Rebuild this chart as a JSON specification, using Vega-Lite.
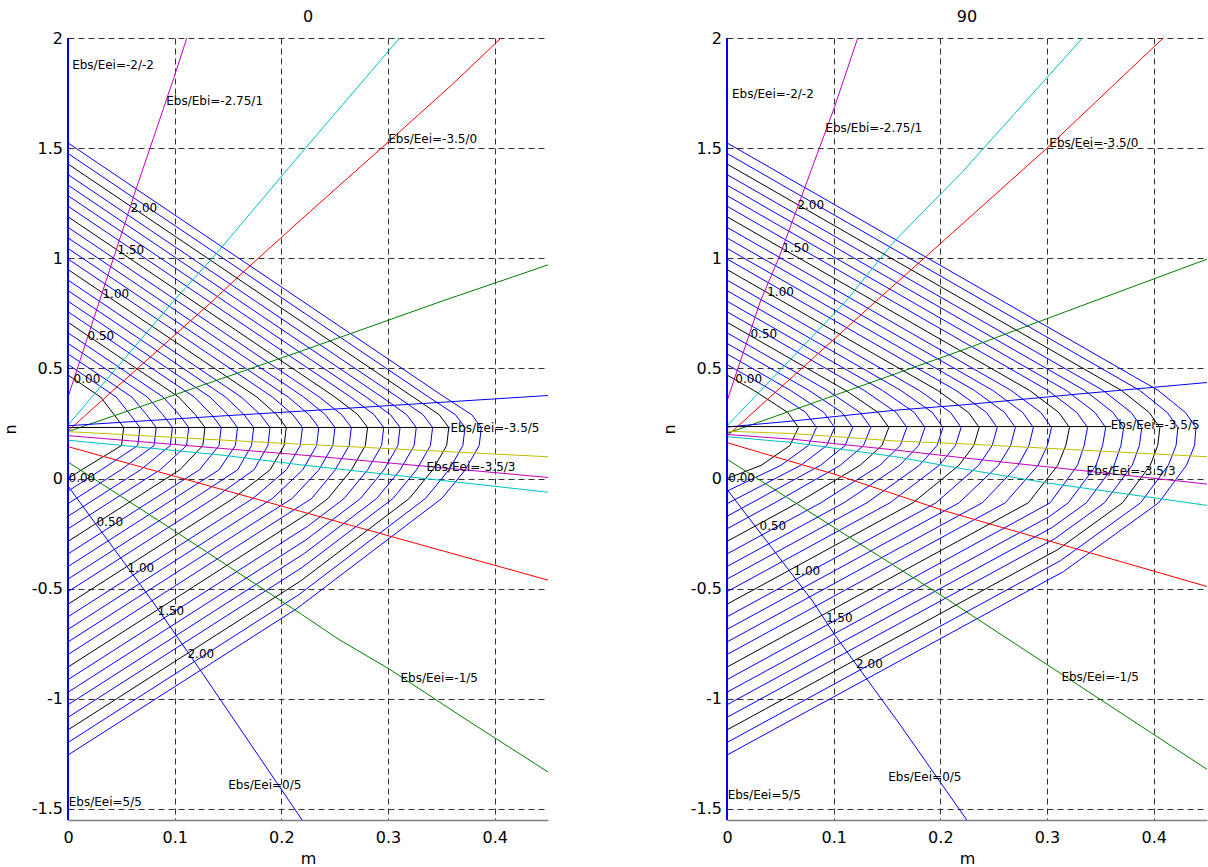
{
"$schema":"https://vega.github.io/schema/vega-lite/v6.json",
"padding":{"left":2,"top":9,"right":0,"bottom":0},
"bounds":"flush",
"spacing":179,
"datasets":{
"contours":[
{"p":"L","c":0,"i":0,"m":0,"n":0.47},{"p":"L","c":0,"i":1,"m":0.0306,"n":0.37},{"p":"L","c":0,"i":2,"m":0.0432,"n":0.29},{"p":"L","c":0,"i":3,"m":0.0522,"n":0.232},{"p":"L","c":0,"i":4,"m":0.0502,"n":0.15},{"p":"L","c":0,"i":5,"m":0.0129,"n":0.04},{"p":"L","c":0,"i":6,"m":0,"n":0},
{"p":"L","c":0.1,"i":0,"m":0,"n":0.5179},{"p":"L","c":0.1,"i":1,"m":0.0452,"n":0.37},{"p":"L","c":0.1,"i":2,"m":0.0584,"n":0.29},{"p":"L","c":0.1,"i":3,"m":0.0674,"n":0.232},{"p":"L","c":0.1,"i":4,"m":0.0654,"n":0.15},{"p":"L","c":0.1,"i":5,"m":0.0313,"n":0.04},{"p":"L","c":0.1,"i":6,"m":0,"n":-0.0571},
{"p":"L","c":0.2,"i":0,"m":0,"n":0.5658},{"p":"L","c":0.2,"i":1,"m":0.0599,"n":0.37},{"p":"L","c":0.2,"i":2,"m":0.0737,"n":0.29},{"p":"L","c":0.2,"i":3,"m":0.0827,"n":0.232},{"p":"L","c":0.2,"i":4,"m":0.0807,"n":0.15},{"p":"L","c":0.2,"i":5,"m":0.0497,"n":0.04},{"p":"L","c":0.2,"i":6,"m":0,"n":-0.1141},
{"p":"L","c":0.3,"i":0,"m":0,"n":0.6137},{"p":"L","c":0.3,"i":1,"m":0.0745,"n":0.37},{"p":"L","c":0.3,"i":2,"m":0.0889,"n":0.29},{"p":"L","c":0.3,"i":3,"m":0.0979,"n":0.232},{"p":"L","c":0.3,"i":4,"m":0.0959,"n":0.15},{"p":"L","c":0.3,"i":5,"m":0.0681,"n":0.04},{"p":"L","c":0.3,"i":6,"m":0,"n":-0.1712},
{"p":"L","c":0.4,"i":0,"m":0,"n":0.6616},{"p":"L","c":0.4,"i":1,"m":0.0892,"n":0.37},{"p":"L","c":0.4,"i":2,"m":0.1042,"n":0.29},{"p":"L","c":0.4,"i":3,"m":0.1132,"n":0.232},{"p":"L","c":0.4,"i":4,"m":0.1112,"n":0.15},{"p":"L","c":0.4,"i":5,"m":0.0865,"n":0.04},{"p":"L","c":0.4,"i":6,"m":0,"n":-0.2282},
{"p":"L","c":0.5,"i":0,"m":0,"n":0.7095},{"p":"L","c":0.5,"i":1,"m":0.1038,"n":0.37},{"p":"L","c":0.5,"i":2,"m":0.1194,"n":0.29},{"p":"L","c":0.5,"i":3,"m":0.1284,"n":0.232},{"p":"L","c":0.5,"i":4,"m":0.1264,"n":0.15},{"p":"L","c":0.5,"i":5,"m":0.1049,"n":0.04},{"p":"L","c":0.5,"i":6,"m":0,"n":-0.2853},
{"p":"L","c":0.6,"i":0,"m":0,"n":0.7574},{"p":"L","c":0.6,"i":1,"m":0.1185,"n":0.37},{"p":"L","c":0.6,"i":2,"m":0.1346,"n":0.29},{"p":"L","c":0.6,"i":3,"m":0.1436,"n":0.232},{"p":"L","c":0.6,"i":4,"m":0.1416,"n":0.15},{"p":"L","c":0.6,"i":5,"m":0.1233,"n":0.04},{"p":"L","c":0.6,"i":6,"m":0,"n":-0.3423},
{"p":"L","c":0.7,"i":0,"m":0,"n":0.8053},{"p":"L","c":0.7,"i":1,"m":0.1331,"n":0.37},{"p":"L","c":0.7,"i":2,"m":0.1499,"n":0.29},{"p":"L","c":0.7,"i":3,"m":0.1589,"n":0.232},{"p":"L","c":0.7,"i":4,"m":0.1569,"n":0.15},{"p":"L","c":0.7,"i":5,"m":0.1417,"n":0.04},{"p":"L","c":0.7,"i":6,"m":0,"n":-0.3994},
{"p":"L","c":0.8,"i":0,"m":0,"n":0.8532},{"p":"L","c":0.8,"i":1,"m":0.1478,"n":0.37},{"p":"L","c":0.8,"i":2,"m":0.1651,"n":0.29},{"p":"L","c":0.8,"i":3,"m":0.1741,"n":0.232},{"p":"L","c":0.8,"i":4,"m":0.1721,"n":0.15},{"p":"L","c":0.8,"i":5,"m":0.1591,"n":0.04},{"p":"L","c":0.8,"i":6,"m":0.1182,"n":-0.09},{"p":"L","c":0.8,"i":7,"m":0,"n":-0.4564},
{"p":"L","c":0.9,"i":0,"m":0,"n":0.9011},{"p":"L","c":0.9,"i":1,"m":0.1624,"n":0.37},{"p":"L","c":0.9,"i":2,"m":0.1804,"n":0.29},{"p":"L","c":0.9,"i":3,"m":0.1894,"n":0.232},{"p":"L","c":0.9,"i":4,"m":0.1874,"n":0.15},{"p":"L","c":0.9,"i":5,"m":0.1744,"n":0.04},{"p":"L","c":0.9,"i":6,"m":0.1366,"n":-0.09},{"p":"L","c":0.9,"i":7,"m":0,"n":-0.5135},
{"p":"L","c":1.0,"i":0,"m":0,"n":0.949},{"p":"L","c":1.0,"i":1,"m":0.1771,"n":0.37},{"p":"L","c":1.0,"i":2,"m":0.1956,"n":0.29},{"p":"L","c":1.0,"i":3,"m":0.2046,"n":0.232},{"p":"L","c":1.0,"i":4,"m":0.2026,"n":0.15},{"p":"L","c":1.0,"i":5,"m":0.1896,"n":0.04},{"p":"L","c":1.0,"i":6,"m":0.155,"n":-0.09},{"p":"L","c":1.0,"i":7,"m":0,"n":-0.5705},
{"p":"L","c":1.1,"i":0,"m":0,"n":0.9969},{"p":"L","c":1.1,"i":1,"m":0.1917,"n":0.37},{"p":"L","c":1.1,"i":2,"m":0.2108,"n":0.29},{"p":"L","c":1.1,"i":3,"m":0.2198,"n":0.232},{"p":"L","c":1.1,"i":4,"m":0.2178,"n":0.15},{"p":"L","c":1.1,"i":5,"m":0.2048,"n":0.04},{"p":"L","c":1.1,"i":6,"m":0.1734,"n":-0.09},{"p":"L","c":1.1,"i":7,"m":0,"n":-0.6276},
{"p":"L","c":1.2,"i":0,"m":0,"n":1.0448},{"p":"L","c":1.2,"i":1,"m":0.2064,"n":0.37},{"p":"L","c":1.2,"i":2,"m":0.2261,"n":0.29},{"p":"L","c":1.2,"i":3,"m":0.2351,"n":0.232},{"p":"L","c":1.2,"i":4,"m":0.2331,"n":0.15},{"p":"L","c":1.2,"i":5,"m":0.2201,"n":0.04},{"p":"L","c":1.2,"i":6,"m":0.1918,"n":-0.09},{"p":"L","c":1.2,"i":7,"m":0,"n":-0.6846},
{"p":"L","c":1.3,"i":0,"m":0,"n":1.0927},{"p":"L","c":1.3,"i":1,"m":0.221,"n":0.37},{"p":"L","c":1.3,"i":2,"m":0.2413,"n":0.29},{"p":"L","c":1.3,"i":3,"m":0.2503,"n":0.232},{"p":"L","c":1.3,"i":4,"m":0.2483,"n":0.15},{"p":"L","c":1.3,"i":5,"m":0.2353,"n":0.04},{"p":"L","c":1.3,"i":6,"m":0.2102,"n":-0.09},{"p":"L","c":1.3,"i":7,"m":0,"n":-0.7417},
{"p":"L","c":1.4,"i":0,"m":0,"n":1.1406},{"p":"L","c":1.4,"i":1,"m":0.2357,"n":0.37},{"p":"L","c":1.4,"i":2,"m":0.2566,"n":0.29},{"p":"L","c":1.4,"i":3,"m":0.2656,"n":0.232},{"p":"L","c":1.4,"i":4,"m":0.2636,"n":0.15},{"p":"L","c":1.4,"i":5,"m":0.2506,"n":0.04},{"p":"L","c":1.4,"i":6,"m":0.2286,"n":-0.09},{"p":"L","c":1.4,"i":7,"m":0,"n":-0.7987},
{"p":"L","c":1.5,"i":0,"m":0,"n":1.1885},{"p":"L","c":1.5,"i":1,"m":0.2503,"n":0.37},{"p":"L","c":1.5,"i":2,"m":0.2718,"n":0.29},{"p":"L","c":1.5,"i":3,"m":0.2808,"n":0.232},{"p":"L","c":1.5,"i":4,"m":0.2788,"n":0.15},{"p":"L","c":1.5,"i":5,"m":0.2658,"n":0.04},{"p":"L","c":1.5,"i":6,"m":0.2438,"n":-0.09},{"p":"L","c":1.5,"i":7,"m":0.2265,"n":-0.1536},{"p":"L","c":1.5,"i":8,"m":0,"n":-0.8558},
{"p":"L","c":1.6,"i":0,"m":0,"n":1.2364},{"p":"L","c":1.6,"i":1,"m":0.265,"n":0.37},{"p":"L","c":1.6,"i":2,"m":0.287,"n":0.29},{"p":"L","c":1.6,"i":3,"m":0.296,"n":0.232},{"p":"L","c":1.6,"i":4,"m":0.294,"n":0.15},{"p":"L","c":1.6,"i":5,"m":0.281,"n":0.04},{"p":"L","c":1.6,"i":6,"m":0.259,"n":-0.09},{"p":"L","c":1.6,"i":7,"m":0.2249,"n":-0.2156},{"p":"L","c":1.6,"i":8,"m":0,"n":-0.9128},
{"p":"L","c":1.7,"i":0,"m":0,"n":1.2843},{"p":"L","c":1.7,"i":1,"m":0.2796,"n":0.37},{"p":"L","c":1.7,"i":2,"m":0.3023,"n":0.29},{"p":"L","c":1.7,"i":3,"m":0.3113,"n":0.232},{"p":"L","c":1.7,"i":4,"m":0.3093,"n":0.15},{"p":"L","c":1.7,"i":5,"m":0.2963,"n":0.04},{"p":"L","c":1.7,"i":6,"m":0.2743,"n":-0.09},{"p":"L","c":1.7,"i":7,"m":0.2232,"n":-0.278},{"p":"L","c":1.7,"i":8,"m":0,"n":-0.9699},
{"p":"L","c":1.8,"i":0,"m":0,"n":1.3322},{"p":"L","c":1.8,"i":1,"m":0.2943,"n":0.37},{"p":"L","c":1.8,"i":2,"m":0.3175,"n":0.29},{"p":"L","c":1.8,"i":3,"m":0.3265,"n":0.232},{"p":"L","c":1.8,"i":4,"m":0.3245,"n":0.15},{"p":"L","c":1.8,"i":5,"m":0.3115,"n":0.04},{"p":"L","c":1.8,"i":6,"m":0.2895,"n":-0.09},{"p":"L","c":1.8,"i":7,"m":0.2215,"n":-0.3402},{"p":"L","c":1.8,"i":8,"m":0,"n":-1.0269},
{"p":"L","c":1.9,"i":0,"m":0,"n":1.3801},{"p":"L","c":1.9,"i":1,"m":0.3089,"n":0.37},{"p":"L","c":1.9,"i":2,"m":0.3328,"n":0.29},{"p":"L","c":1.9,"i":3,"m":0.3418,"n":0.232},{"p":"L","c":1.9,"i":4,"m":0.3398,"n":0.15},{"p":"L","c":1.9,"i":5,"m":0.3268,"n":0.04},{"p":"L","c":1.9,"i":6,"m":0.3048,"n":-0.09},{"p":"L","c":1.9,"i":7,"m":0.2198,"n":-0.4026},{"p":"L","c":1.9,"i":8,"m":0,"n":-1.084},
{"p":"L","c":2.0,"i":0,"m":0,"n":1.428},{"p":"L","c":2.0,"i":1,"m":0.3236,"n":0.37},{"p":"L","c":2.0,"i":2,"m":0.348,"n":0.29},{"p":"L","c":2.0,"i":3,"m":0.357,"n":0.232},{"p":"L","c":2.0,"i":4,"m":0.355,"n":0.15},{"p":"L","c":2.0,"i":5,"m":0.342,"n":0.04},{"p":"L","c":2.0,"i":6,"m":0.32,"n":-0.09},{"p":"L","c":2.0,"i":7,"m":0.2182,"n":-0.4646},{"p":"L","c":2.0,"i":8,"m":0,"n":-1.141},
{"p":"L","c":2.1,"i":0,"m":0,"n":1.4759},{"p":"L","c":2.1,"i":1,"m":0.3382,"n":0.37},{"p":"L","c":2.1,"i":2,"m":0.3632,"n":0.29},{"p":"L","c":2.1,"i":3,"m":0.3722,"n":0.232},{"p":"L","c":2.1,"i":4,"m":0.3702,"n":0.15},{"p":"L","c":2.1,"i":5,"m":0.3572,"n":0.04},{"p":"L","c":2.1,"i":6,"m":0.3352,"n":-0.09},{"p":"L","c":2.1,"i":7,"m":0.2165,"n":-0.5269},{"p":"L","c":2.1,"i":8,"m":0,"n":-1.1981},
{"p":"L","c":2.2,"i":0,"m":0,"n":1.5238},{"p":"L","c":2.2,"i":1,"m":0.3529,"n":0.37},{"p":"L","c":2.2,"i":2,"m":0.3785,"n":0.29},{"p":"L","c":2.2,"i":3,"m":0.3875,"n":0.232},{"p":"L","c":2.2,"i":4,"m":0.3855,"n":0.15},{"p":"L","c":2.2,"i":5,"m":0.3725,"n":0.04},{"p":"L","c":2.2,"i":6,"m":0.3505,"n":-0.09},{"p":"L","c":2.2,"i":7,"m":0.2148,"n":-0.5892},{"p":"L","c":2.2,"i":8,"m":0,"n":-1.2551},
{"p":"R","c":0,"i":0,"m":0,"n":0.47},{"p":"R","c":0,"i":1,"m":0.0252,"n":0.4},{"p":"R","c":0,"i":2,"m":0.057,"n":0.3},{"p":"R","c":0,"i":3,"m":0.067,"n":0.232},{"p":"R","c":0,"i":4,"m":0.059,"n":0.15},{"p":"R","c":0,"i":5,"m":0.032,"n":0.06},{"p":"R","c":0,"i":6,"m":0,"n":0},
{"p":"R","c":0.1,"i":0,"m":0,"n":0.5179},{"p":"R","c":0.1,"i":1,"m":0.0424,"n":0.4},{"p":"R","c":0.1,"i":2,"m":0.0739,"n":0.3},{"p":"R","c":0.1,"i":3,"m":0.0839,"n":0.232},{"p":"R","c":0.1,"i":4,"m":0.0762,"n":0.15},{"p":"R","c":0.1,"i":5,"m":0.0505,"n":0.06},{"p":"R","c":0.1,"i":6,"m":0,"n":-0.0571},
{"p":"R","c":0.2,"i":0,"m":0,"n":0.5658},{"p":"R","c":0.2,"i":1,"m":0.0596,"n":0.4},{"p":"R","c":0.2,"i":2,"m":0.0909,"n":0.3},{"p":"R","c":0.2,"i":3,"m":0.1009,"n":0.232},{"p":"R","c":0.2,"i":4,"m":0.0935,"n":0.15},{"p":"R","c":0.2,"i":5,"m":0.0691,"n":0.06},{"p":"R","c":0.2,"i":6,"m":0,"n":-0.1141},
{"p":"R","c":0.3,"i":0,"m":0,"n":0.6137},{"p":"R","c":0.3,"i":1,"m":0.0769,"n":0.4},{"p":"R","c":0.3,"i":2,"m":0.1078,"n":0.3},{"p":"R","c":0.3,"i":3,"m":0.1178,"n":0.232},{"p":"R","c":0.3,"i":4,"m":0.1107,"n":0.15},{"p":"R","c":0.3,"i":5,"m":0.0876,"n":0.06},{"p":"R","c":0.3,"i":6,"m":0,"n":-0.1712},
{"p":"R","c":0.4,"i":0,"m":0,"n":0.6616},{"p":"R","c":0.4,"i":1,"m":0.0941,"n":0.4},{"p":"R","c":0.4,"i":2,"m":0.1248,"n":0.3},{"p":"R","c":0.4,"i":3,"m":0.1348,"n":0.232},{"p":"R","c":0.4,"i":4,"m":0.128,"n":0.15},{"p":"R","c":0.4,"i":5,"m":0.1062,"n":0.06},{"p":"R","c":0.4,"i":6,"m":0.0448,"n":-0.11},{"p":"R","c":0.4,"i":7,"m":0,"n":-0.2282},
{"p":"R","c":0.5,"i":0,"m":0,"n":0.7095},{"p":"R","c":0.5,"i":1,"m":0.1113,"n":0.4},{"p":"R","c":0.5,"i":2,"m":0.1417,"n":0.3},{"p":"R","c":0.5,"i":3,"m":0.1517,"n":0.232},{"p":"R","c":0.5,"i":4,"m":0.1452,"n":0.15},{"p":"R","c":0.5,"i":5,"m":0.1247,"n":0.06},{"p":"R","c":0.5,"i":6,"m":0.0664,"n":-0.11},{"p":"R","c":0.5,"i":7,"m":0,"n":-0.2853},
{"p":"R","c":0.6,"i":0,"m":0,"n":0.7574},{"p":"R","c":0.6,"i":1,"m":0.1286,"n":0.4},{"p":"R","c":0.6,"i":2,"m":0.1586,"n":0.3},{"p":"R","c":0.6,"i":3,"m":0.1686,"n":0.232},{"p":"R","c":0.6,"i":4,"m":0.1624,"n":0.15},{"p":"R","c":0.6,"i":5,"m":0.1432,"n":0.06},{"p":"R","c":0.6,"i":6,"m":0.088,"n":-0.11},{"p":"R","c":0.6,"i":7,"m":0,"n":-0.3423},
{"p":"R","c":0.7,"i":0,"m":0,"n":0.8053},{"p":"R","c":0.7,"i":1,"m":0.1458,"n":0.4},{"p":"R","c":0.7,"i":2,"m":0.1756,"n":0.3},{"p":"R","c":0.7,"i":3,"m":0.1856,"n":0.232},{"p":"R","c":0.7,"i":4,"m":0.1797,"n":0.15},{"p":"R","c":0.7,"i":5,"m":0.1618,"n":0.06},{"p":"R","c":0.7,"i":6,"m":0.1096,"n":-0.11},{"p":"R","c":0.7,"i":7,"m":0,"n":-0.3994},
{"p":"R","c":0.8,"i":0,"m":0,"n":0.8532},{"p":"R","c":0.8,"i":1,"m":0.163,"n":0.4},{"p":"R","c":0.8,"i":2,"m":0.1925,"n":0.3},{"p":"R","c":0.8,"i":3,"m":0.2025,"n":0.232},{"p":"R","c":0.8,"i":4,"m":0.1969,"n":0.15},{"p":"R","c":0.8,"i":5,"m":0.1803,"n":0.06},{"p":"R","c":0.8,"i":6,"m":0.1312,"n":-0.11},{"p":"R","c":0.8,"i":7,"m":0,"n":-0.4564},
{"p":"R","c":0.9,"i":0,"m":0,"n":0.9011},{"p":"R","c":0.9,"i":1,"m":0.1803,"n":0.4},{"p":"R","c":0.9,"i":2,"m":0.2095,"n":0.3},{"p":"R","c":0.9,"i":3,"m":0.2195,"n":0.232},{"p":"R","c":0.9,"i":4,"m":0.2142,"n":0.15},{"p":"R","c":0.9,"i":5,"m":0.1989,"n":0.06},{"p":"R","c":0.9,"i":6,"m":0.1528,"n":-0.11},{"p":"R","c":0.9,"i":7,"m":0,"n":-0.5135},
{"p":"R","c":1.0,"i":0,"m":0,"n":0.949},{"p":"R","c":1.0,"i":1,"m":0.1975,"n":0.4},{"p":"R","c":1.0,"i":2,"m":0.2264,"n":0.3},{"p":"R","c":1.0,"i":3,"m":0.2364,"n":0.232},{"p":"R","c":1.0,"i":4,"m":0.2314,"n":0.15},{"p":"R","c":1.0,"i":5,"m":0.2174,"n":0.06},{"p":"R","c":1.0,"i":6,"m":0.1744,"n":-0.11},{"p":"R","c":1.0,"i":7,"m":0,"n":-0.5705},
{"p":"R","c":1.1,"i":0,"m":0,"n":0.9969},{"p":"R","c":1.1,"i":1,"m":0.2147,"n":0.4},{"p":"R","c":1.1,"i":2,"m":0.2433,"n":0.3},{"p":"R","c":1.1,"i":3,"m":0.2533,"n":0.232},{"p":"R","c":1.1,"i":4,"m":0.2486,"n":0.15},{"p":"R","c":1.1,"i":5,"m":0.2359,"n":0.06},{"p":"R","c":1.1,"i":6,"m":0.196,"n":-0.11},{"p":"R","c":1.1,"i":7,"m":0,"n":-0.6276},
{"p":"R","c":1.2,"i":0,"m":0,"n":1.0448},{"p":"R","c":1.2,"i":1,"m":0.232,"n":0.4},{"p":"R","c":1.2,"i":2,"m":0.2603,"n":0.3},{"p":"R","c":1.2,"i":3,"m":0.2703,"n":0.232},{"p":"R","c":1.2,"i":4,"m":0.2659,"n":0.15},{"p":"R","c":1.2,"i":5,"m":0.2545,"n":0.06},{"p":"R","c":1.2,"i":6,"m":0.2176,"n":-0.11},{"p":"R","c":1.2,"i":7,"m":0,"n":-0.6846},
{"p":"R","c":1.3,"i":0,"m":0,"n":1.0927},{"p":"R","c":1.3,"i":1,"m":0.2492,"n":0.4},{"p":"R","c":1.3,"i":2,"m":0.2772,"n":0.3},{"p":"R","c":1.3,"i":3,"m":0.2872,"n":0.232},{"p":"R","c":1.3,"i":4,"m":0.2831,"n":0.15},{"p":"R","c":1.3,"i":5,"m":0.273,"n":0.06},{"p":"R","c":1.3,"i":6,"m":0.2393,"n":-0.11},{"p":"R","c":1.3,"i":7,"m":0,"n":-0.7417},
{"p":"R","c":1.4,"i":0,"m":0,"n":1.1406},{"p":"R","c":1.4,"i":1,"m":0.2664,"n":0.4},{"p":"R","c":1.4,"i":2,"m":0.2942,"n":0.3},{"p":"R","c":1.4,"i":3,"m":0.3042,"n":0.232},{"p":"R","c":1.4,"i":4,"m":0.3004,"n":0.15},{"p":"R","c":1.4,"i":5,"m":0.2916,"n":0.06},{"p":"R","c":1.4,"i":6,"m":0.2609,"n":-0.11},{"p":"R","c":1.4,"i":7,"m":0,"n":-0.7987},
{"p":"R","c":1.5,"i":0,"m":0,"n":1.1885},{"p":"R","c":1.5,"i":1,"m":0.2837,"n":0.4},{"p":"R","c":1.5,"i":2,"m":0.3111,"n":0.3},{"p":"R","c":1.5,"i":3,"m":0.3211,"n":0.232},{"p":"R","c":1.5,"i":4,"m":0.3176,"n":0.15},{"p":"R","c":1.5,"i":5,"m":0.3101,"n":0.06},{"p":"R","c":1.5,"i":6,"m":0.2825,"n":-0.11},{"p":"R","c":1.5,"i":7,"m":0,"n":-0.8558},
{"p":"R","c":1.6,"i":0,"m":0,"n":1.2364},{"p":"R","c":1.6,"i":1,"m":0.3009,"n":0.4},{"p":"R","c":1.6,"i":2,"m":0.328,"n":0.3},{"p":"R","c":1.6,"i":3,"m":0.338,"n":0.232},{"p":"R","c":1.6,"i":4,"m":0.3348,"n":0.15},{"p":"R","c":1.6,"i":5,"m":0.3286,"n":0.06},{"p":"R","c":1.6,"i":6,"m":0.303,"n":-0.11},{"p":"R","c":1.6,"i":7,"m":0,"n":-0.9128},
{"p":"R","c":1.7,"i":0,"m":0,"n":1.2843},{"p":"R","c":1.7,"i":1,"m":0.3181,"n":0.4},{"p":"R","c":1.7,"i":2,"m":0.345,"n":0.3},{"p":"R","c":1.7,"i":3,"m":0.355,"n":0.232},{"p":"R","c":1.7,"i":4,"m":0.3521,"n":0.15},{"p":"R","c":1.7,"i":5,"m":0.346,"n":0.06},{"p":"R","c":1.7,"i":6,"m":0.32,"n":-0.11},{"p":"R","c":1.7,"i":7,"m":0.3024,"n":-0.1716},{"p":"R","c":1.7,"i":8,"m":0,"n":-0.9699},
{"p":"R","c":1.8,"i":0,"m":0,"n":1.3322},{"p":"R","c":1.8,"i":1,"m":0.3354,"n":0.4},{"p":"R","c":1.8,"i":2,"m":0.3619,"n":0.3},{"p":"R","c":1.8,"i":3,"m":0.3719,"n":0.232},{"p":"R","c":1.8,"i":4,"m":0.3693,"n":0.15},{"p":"R","c":1.8,"i":5,"m":0.3629,"n":0.06},{"p":"R","c":1.8,"i":6,"m":0.3369,"n":-0.11},{"p":"R","c":1.8,"i":7,"m":0.305,"n":-0.2217},{"p":"R","c":1.8,"i":8,"m":0,"n":-1.0269},
{"p":"R","c":1.9,"i":0,"m":0,"n":1.3801},{"p":"R","c":1.9,"i":1,"m":0.3526,"n":0.4},{"p":"R","c":1.9,"i":2,"m":0.3789,"n":0.3},{"p":"R","c":1.9,"i":3,"m":0.3889,"n":0.232},{"p":"R","c":1.9,"i":4,"m":0.3866,"n":0.15},{"p":"R","c":1.9,"i":5,"m":0.3799,"n":0.06},{"p":"R","c":1.9,"i":6,"m":0.3539,"n":-0.11},{"p":"R","c":1.9,"i":7,"m":0.3076,"n":-0.2719},{"p":"R","c":1.9,"i":8,"m":0,"n":-1.084},
{"p":"R","c":2.0,"i":0,"m":0,"n":1.428},{"p":"R","c":2.0,"i":1,"m":0.3698,"n":0.4},{"p":"R","c":2.0,"i":2,"m":0.3958,"n":0.3},{"p":"R","c":2.0,"i":3,"m":0.4058,"n":0.232},{"p":"R","c":2.0,"i":4,"m":0.4038,"n":0.15},{"p":"R","c":2.0,"i":5,"m":0.3968,"n":0.06},{"p":"R","c":2.0,"i":6,"m":0.3708,"n":-0.11},{"p":"R","c":2.0,"i":7,"m":0.3102,"n":-0.3221},{"p":"R","c":2.0,"i":8,"m":0,"n":-1.141},
{"p":"R","c":2.1,"i":0,"m":0,"n":1.4759},{"p":"R","c":2.1,"i":1,"m":0.387,"n":0.4},{"p":"R","c":2.1,"i":2,"m":0.4127,"n":0.3},{"p":"R","c":2.1,"i":3,"m":0.4227,"n":0.232},{"p":"R","c":2.1,"i":4,"m":0.421,"n":0.15},{"p":"R","c":2.1,"i":5,"m":0.4137,"n":0.06},{"p":"R","c":2.1,"i":6,"m":0.3877,"n":-0.11},{"p":"R","c":2.1,"i":7,"m":0.3128,"n":-0.3723},{"p":"R","c":2.1,"i":8,"m":0,"n":-1.1981},
{"p":"R","c":2.2,"i":0,"m":0,"n":1.5238},{"p":"R","c":2.2,"i":1,"m":0.4043,"n":0.4},{"p":"R","c":2.2,"i":2,"m":0.4297,"n":0.3},{"p":"R","c":2.2,"i":3,"m":0.4397,"n":0.232},{"p":"R","c":2.2,"i":4,"m":0.4383,"n":0.15},{"p":"R","c":2.2,"i":5,"m":0.4307,"n":0.06},{"p":"R","c":2.2,"i":6,"m":0.4047,"n":-0.11},{"p":"R","c":2.2,"i":7,"m":0.3154,"n":-0.4224},{"p":"R","c":2.2,"i":8,"m":0,"n":-1.2551}
],
"strain":[
{"p":"L","s":"v0","i":0,"m":0,"n":-1.55},{"p":"L","s":"v0","i":1,"m":0,"n":2},
{"p":"L","s":"mu","i":0,"m":0,"n":0.37},{"p":"L","s":"mu","i":1,"m":0.0295,"n":0.806},{"p":"L","s":"mu","i":2,"m":0.0632,"n":1.305},{"p":"L","s":"mu","i":3,"m":0.0993,"n":1.82},{"p":"L","s":"mu","i":4,"m":0.1114,"n":2},
{"p":"L","s":"cu","i":0,"m":0,"n":0.243},{"p":"L","s":"cu","i":1,"m":0.099,"n":0.806},{"p":"L","s":"cu","i":2,"m":0.1371,"n":1.01},{"p":"L","s":"cu","i":3,"m":0.2189,"n":1.479},{"p":"L","s":"cu","i":4,"m":0.311,"n":2},
{"p":"L","s":"ru","i":0,"m":0,"n":0.216},{"p":"L","s":"ru","i":1,"m":0.1355,"n":0.806},{"p":"L","s":"ru","i":2,"m":0.1686,"n":0.957},{"p":"L","s":"ru","i":3,"m":0.2189,"n":1.177},{"p":"L","s":"ru","i":4,"m":0.3012,"n":1.532},{"p":"L","s":"ru","i":5,"m":0.3604,"n":1.79},{"p":"L","s":"ru","i":6,"m":0.406,"n":2},
{"p":"L","s":"gu","i":0,"m":0,"n":0.213},{"p":"L","s":"gu","i":1,"m":0.2189,"n":0.579},{"p":"L","s":"gu","i":2,"m":0.3509,"n":0.806},{"p":"L","s":"gu","i":3,"m":0.45,"n":0.97},
{"p":"L","s":"bu","i":0,"m":0,"n":0.24},{"p":"L","s":"bu","i":1,"m":0.1434,"n":0.284},{"p":"L","s":"bu","i":2,"m":0.2189,"n":0.306},{"p":"L","s":"bu","i":3,"m":0.45,"n":0.377},
{"p":"L","s":"kh","i":0,"m":0,"n":0.232},{"p":"L","s":"kh","i":1,"m":0.358,"n":0.232},
{"p":"L","s":"yd","i":0,"m":0,"n":0.213},{"p":"L","s":"yd","i":1,"m":0.024,"n":0.207},{"p":"L","s":"yd","i":2,"m":0.1434,"n":0.175},{"p":"L","s":"yd","i":3,"m":0.2189,"n":0.156},{"p":"L","s":"yd","i":4,"m":0.45,"n":0.099},
{"p":"L","s":"md","i":0,"m":0,"n":0.195},{"p":"L","s":"md","i":1,"m":0.1434,"n":0.137},{"p":"L","s":"md","i":2,"m":0.2189,"n":0.107},{"p":"L","s":"md","i":3,"m":0.45,"n":0.005},
{"p":"L","s":"cd","i":0,"m":0,"n":0.174},{"p":"L","s":"cd","i":1,"m":0.1434,"n":0.107},{"p":"L","s":"cd","i":2,"m":0.2189,"n":0.062},{"p":"L","s":"cd","i":3,"m":0.45,"n":-0.062},
{"p":"L","s":"rd","i":0,"m":0,"n":0.145},{"p":"L","s":"rd","i":1,"m":0.2189,"n":-0.15},{"p":"L","s":"rd","i":2,"m":0.45,"n":-0.461},
{"p":"L","s":"gd","i":0,"m":0,"n":0.075},{"p":"L","s":"gd","i":1,"m":0.1,"n":-0.238},{"p":"L","s":"gd","i":2,"m":0.2189,"n":-0.616},{"p":"L","s":"gd","i":3,"m":0.2535,"n":-0.729},{"p":"L","s":"gd","i":4,"m":0.3016,"n":-0.866},{"p":"L","s":"gd","i":5,"m":0.373,"n":-1.093},{"p":"L","s":"gd","i":6,"m":0.45,"n":-1.332},
{"p":"L","s":"bd","i":0,"m":0,"n":-0.034},{"p":"L","s":"bd","i":1,"m":0.079,"n":-0.556},{"p":"L","s":"bd","i":2,"m":0.1245,"n":-0.873},{"p":"L","s":"bd","i":3,"m":0.2195,"n":-1.55},
{"p":"R","s":"v0","i":0,"m":0,"n":-1.55},{"p":"R","s":"v0","i":1,"m":0,"n":2},
{"p":"R","s":"mu","i":0,"m":0,"n":0.352},{"p":"R","s":"mu","i":1,"m":0.0314,"n":0.806},{"p":"R","s":"mu","i":2,"m":0.0487,"n":1.003},{"p":"R","s":"mu","i":3,"m":0.1006,"n":1.684},{"p":"R","s":"mu","i":4,"m":0.1226,"n":2},
{"p":"R","s":"cu","i":0,"m":0,"n":0.239},{"p":"R","s":"cu","i":1,"m":0.1116,"n":0.806},{"p":"R","s":"cu","i":2,"m":0.1572,"n":1.079},{"p":"R","s":"cu","i":3,"m":0.2201,"n":1.389},{"p":"R","s":"cu","i":4,"m":0.3333,"n":2},
{"p":"R","s":"ru","i":0,"m":0,"n":0.193},{"p":"R","s":"ru","i":1,"m":0.1399,"n":0.806},{"p":"R","s":"ru","i":2,"m":0.3,"n":1.5},{"p":"R","s":"ru","i":3,"m":0.409,"n":2},
{"p":"R","s":"gu","i":0,"m":0,"n":0.205},{"p":"R","s":"gu","i":1,"m":0.2201,"n":0.582},{"p":"R","s":"gu","i":2,"m":0.3443,"n":0.806},{"p":"R","s":"gu","i":3,"m":0.45,"n":0.996},
{"p":"R","s":"bu","i":0,"m":0,"n":0.234},{"p":"R","s":"bu","i":1,"m":0.063,"n":0.262},{"p":"R","s":"bu","i":2,"m":0.157,"n":0.31},{"p":"R","s":"bu","i":3,"m":0.2201,"n":0.334},{"p":"R","s":"bu","i":4,"m":0.33,"n":0.384},{"p":"R","s":"bu","i":5,"m":0.45,"n":0.436},
{"p":"R","s":"kh","i":0,"m":0,"n":0.236},{"p":"R","s":"kh","i":1,"m":0.36,"n":0.236},
{"p":"R","s":"yd","i":0,"m":0,"n":0.215},{"p":"R","s":"yd","i":1,"m":0.0628,"n":0.204},{"p":"R","s":"yd","i":2,"m":0.157,"n":0.171},{"p":"R","s":"yd","i":3,"m":0.2201,"n":0.158},{"p":"R","s":"yd","i":4,"m":0.45,"n":0.099},
{"p":"R","s":"md","i":0,"m":0,"n":0.2},{"p":"R","s":"md","i":1,"m":0.0628,"n":0.178},{"p":"R","s":"md","i":2,"m":0.157,"n":0.13},{"p":"R","s":"md","i":3,"m":0.2201,"n":0.095},{"p":"R","s":"md","i":4,"m":0.45,"n":-0.025},
{"p":"R","s":"cd","i":0,"m":0,"n":0.19},{"p":"R","s":"cd","i":1,"m":0.0628,"n":0.163},{"p":"R","s":"cd","i":2,"m":0.157,"n":0.1},{"p":"R","s":"cd","i":3,"m":0.2201,"n":0.045},{"p":"R","s":"cd","i":4,"m":0.2987,"n":-0.019},{"p":"R","s":"cd","i":5,"m":0.4025,"n":-0.089},{"p":"R","s":"cd","i":6,"m":0.45,"n":-0.122},
{"p":"R","s":"rd","i":0,"m":0,"n":0.163},{"p":"R","s":"rd","i":1,"m":0.0314,"n":0.118},{"p":"R","s":"rd","i":2,"m":0.1006,"n":0.02},{"p":"R","s":"rd","i":3,"m":0.2043,"n":-0.147},{"p":"R","s":"rd","i":4,"m":0.45,"n":-0.49},
{"p":"R","s":"gd","i":0,"m":0,"n":0.088},{"p":"R","s":"gd","i":1,"m":0.1006,"n":-0.223},{"p":"R","s":"gd","i":2,"m":0.2043,"n":-0.541},{"p":"R","s":"gd","i":3,"m":0.45,"n":-1.32},
{"p":"R","s":"bd","i":0,"m":0,"n":-0.049},{"p":"R","s":"bd","i":1,"m":0.0802,"n":-0.556},{"p":"R","s":"bd","i":2,"m":0.1006,"n":-0.707},{"p":"R","s":"bd","i":3,"m":0.1619,"n":-1.115},{"p":"R","s":"bd","i":4,"m":0.2248,"n":-1.55}
],
"labels":[
{"p":"L","t":"0.00","m":0.0052,"n":0.452},{"p":"L","t":"0.50","m":0.0183,"n":0.647},{"p":"L","t":"1.00","m":0.0323,"n":0.838},{"p":"L","t":"1.50","m":0.0464,"n":1.038},{"p":"L","t":"2.00","m":0.0586,"n":1.228},
{"p":"L","t":"0.00","m":0.0005,"n":0.003},{"p":"L","t":"0.50","m":0.0267,"n":-0.197},{"p":"L","t":"1.00","m":0.0558,"n":-0.406},{"p":"L","t":"1.50","m":0.0839,"n":-0.601},{"p":"L","t":"2.00","m":0.112,"n":-0.796},
{"p":"L","t":"Ebs/Eei=-2/-2","m":0.0039,"n":1.877},{"p":"L","t":"Ebs/Ebi=-2.75/1","m":0.0921,"n":1.714},{"p":"L","t":"Ebs/Eei=-3.5/0","m":0.3002,"n":1.54},{"p":"L","t":"Ebs/Eei=-3.5/5","m":0.3586,"n":0.23},{"p":"L","t":"Ebs/Eei=-3.5/3","m":0.3361,"n":0.0535},{"p":"L","t":"Ebs/Eei=-1/5","m":0.3117,"n":-0.905},{"p":"L","t":"Ebs/Eei=0/5","m":0.1502,"n":-1.391},{"p":"L","t":"Ebs/Eei=5/5","m":0.0007,"n":-1.468},
{"p":"R","t":"0.00","m":0.0078,"n":0.452},{"p":"R","t":"0.50","m":0.022,"n":0.654},{"p":"R","t":"1.00","m":0.0377,"n":0.847},{"p":"R","t":"1.50","m":0.0519,"n":1.047},{"p":"R","t":"2.00","m":0.066,"n":1.242},
{"p":"R","t":"0.00","m":0.0012,"n":0.003},{"p":"R","t":"0.50","m":0.0305,"n":-0.214},{"p":"R","t":"1.00","m":0.0623,"n":-0.419},{"p":"R","t":"1.50","m":0.0927,"n":-0.633},{"p":"R","t":"2.00","m":0.121,"n":-0.844},
{"p":"R","t":"Ebs/Eei=-2/-2","m":0.0047,"n":1.747},{"p":"R","t":"Ebs/Ebi=-2.75/1","m":0.0922,"n":1.591},{"p":"R","t":"Ebs/Eei=-3.5/0","m":0.3022,"n":1.523},{"p":"R","t":"Ebs/Eei=-3.5/5","m":0.3597,"n":0.241},{"p":"R","t":"Ebs/Eei=-3.5/3","m":0.3371,"n":0.034},{"p":"R","t":"Ebs/Eei=-1/5","m":0.3135,"n":-0.901},{"p":"R","t":"Ebs/Eei=0/5","m":0.1512,"n":-1.355},{"p":"R","t":"Ebs/Eei=5/5","m":0.0006,"n":-1.436}
]
},
"hconcat":[
{
"width":480,"height":782,
"title":{"text":"0"},
"encoding":{
"x":{"field":"m","type":"quantitative","scale":{"domain":[0,0.45],"nice":false,"zero":false},"axis":{"values":[0,0.1,0.2,0.3,0.4],"labelExpr":"''+datum.value"}},
"y":{"field":"n","type":"quantitative","scale":{"domain":[-1.55,2],"nice":false,"zero":false},"axis":{"values":[-1.5,-1,-0.5,0,0.5,1,1.5,2],"labelExpr":"''+datum.value"}}
},
"layer":[
{"data":{"name":"contours"},"transform":[{"filter":"datum.p=='L' && round(datum.c*10)%5!=0"}],"mark":{"type":"line","color":"#0000ff","strokeWidth":1},"encoding":{"detail":{"field":"c","type":"nominal"},"order":{"field":"i","type":"quantitative"}}},
{"data":{"name":"contours"},"transform":[{"filter":"datum.p=='L' && round(datum.c*10)%5==0"}],"mark":{"type":"line","color":"#000000","strokeWidth":1},"encoding":{"detail":{"field":"c","type":"nominal"},"order":{"field":"i","type":"quantitative"}}},
{"data":{"name":"strain"},"transform":[{"filter":"datum.p=='L' && datum.s!='v0'"}],"mark":{"type":"line","strokeWidth":1},"encoding":{"color":{"field":"s","type":"nominal","scale":{"domain":["v0","mu","cu","ru","gu","bu","kh","yd","md","cd","rd","gd","bd"],"range":["#0000ff","#bf00bf","#00bfbf","#ff0000","#008000","#0000ff","#000000","#bfbf00","#bf00bf","#00bfbf","#ff0000","#008000","#0000ff"]},"legend":null},"order":{"field":"i","type":"quantitative"}}},
{"data":{"name":"strain"},"transform":[{"filter":"datum.p=='L' && datum.s=='v0'"}],"mark":{"type":"line","strokeWidth":2,"color":"#0000ff"},"encoding":{"order":{"field":"i","type":"quantitative"}}},
{"data":{"name":"labels"},"transform":[{"filter":"datum.p=='L'"}],"mark":{"type":"text","align":"left","baseline":"middle","fontSize":12,"font":"DejaVu Sans","color":"#000000"},"encoding":{"text":{"field":"t","type":"nominal"}}}
]
},
{
"width":480,"height":782,
"title":{"text":"90"},
"encoding":{
"x":{"field":"m","type":"quantitative","scale":{"domain":[0,0.45],"nice":false,"zero":false},"axis":{"values":[0,0.1,0.2,0.3,0.4],"labelExpr":"''+datum.value"}},
"y":{"field":"n","type":"quantitative","scale":{"domain":[-1.55,2],"nice":false,"zero":false},"axis":{"values":[-1.5,-1,-0.5,0,0.5,1,1.5,2],"labelExpr":"''+datum.value"}}
},
"layer":[
{"data":{"name":"contours"},"transform":[{"filter":"datum.p=='R' && round(datum.c*10)%5!=0"}],"mark":{"type":"line","color":"#0000ff","strokeWidth":1},"encoding":{"detail":{"field":"c","type":"nominal"},"order":{"field":"i","type":"quantitative"}}},
{"data":{"name":"contours"},"transform":[{"filter":"datum.p=='R' && round(datum.c*10)%5==0"}],"mark":{"type":"line","color":"#000000","strokeWidth":1},"encoding":{"detail":{"field":"c","type":"nominal"},"order":{"field":"i","type":"quantitative"}}},
{"data":{"name":"strain"},"transform":[{"filter":"datum.p=='R' && datum.s!='v0'"}],"mark":{"type":"line","strokeWidth":1},"encoding":{"color":{"field":"s","type":"nominal","scale":{"domain":["v0","mu","cu","ru","gu","bu","kh","yd","md","cd","rd","gd","bd"],"range":["#0000ff","#bf00bf","#00bfbf","#ff0000","#008000","#0000ff","#000000","#bfbf00","#bf00bf","#00bfbf","#ff0000","#008000","#0000ff"]},"legend":null},"order":{"field":"i","type":"quantitative"}}},
{"data":{"name":"strain"},"transform":[{"filter":"datum.p=='R' && datum.s=='v0'"}],"mark":{"type":"line","strokeWidth":2,"color":"#0000ff"},"encoding":{"order":{"field":"i","type":"quantitative"}}},
{"data":{"name":"labels"},"transform":[{"filter":"datum.p=='R'"}],"mark":{"type":"text","align":"left","baseline":"middle","fontSize":12,"font":"DejaVu Sans","color":"#000000"},"encoding":{"text":{"field":"t","type":"nominal"}}}
]
}
],
"config":{
"view":{"stroke":null},
"font":"DejaVu Sans",
"axis":{"grid":true,"gridDash":[6,4],"gridColor":"#333333","gridWidth":1,"gridOpacity":1,"ticks":false,"tickSize":0,"labelFontSize":16,"labelColor":"#000000","labelFont":"DejaVu Sans","labelFlush":false,"labelOverlap":false,"titleFontSize":16,"titleFontWeight":"normal","titleColor":"#000000","titleFont":"DejaVu Sans"},
"axisX":{"domainColor":"#808080","domainWidth":1.5,"labelPadding":9,"titlePadding":5},
"axisY":{"domain":false,"labelPadding":5.5,"titlePadding":13},
"title":{"fontSize":16,"fontWeight":"normal","font":"DejaVu Sans","offset":5,"color":"#000000"}
}
}
